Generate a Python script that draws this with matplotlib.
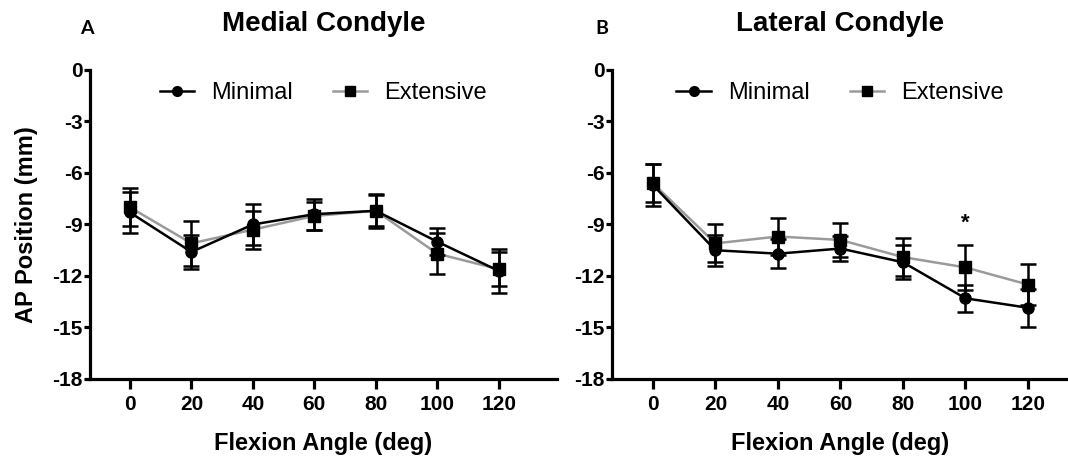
import matplotlib
matplotlib.use("Agg")
import matplotlib.pyplot as plt
from matplotlib.lines import Line2D

plt.rcParams['font.family'] = ['Liberation Sans', 'DejaVu Sans']
plt.rcParams['axes.unicode_minus'] = False

angles = [0, 20, 40, 60, 80, 100, 120]

# medial condyle
med_min = [-8.3, -10.6, -9.0, -8.4, -8.2, -10.0, -11.7]
med_min_err = [1.2, 1.0, 1.2, 0.9, 1.0, 0.8, 1.3]
med_ext = [-8.0, -10.1, -9.3, -8.5, -8.2, -10.7, -11.6]
med_ext_err = [1.1, 1.3, 1.1, 0.8, 0.9, 1.2, 1.0]

# lateral condyle
lat_min = [-6.7, -10.5, -10.7, -10.4, -11.2, -13.3, -13.85]
lat_min_err = [1.2, 0.9, 0.85, 0.75, 1.0, 0.8, 1.1]
lat_ext = [-6.6, -10.1, -9.7, -9.9, -10.9, -11.5, -12.5]
lat_ext_err = [1.1, 1.1, 1.1, 1.0, 1.1, 1.3, 1.2]

yticks = [0, -3, -6, -9, -12, -15, -18]
ytick_labels = ['0', '-3', '-6', '-9', '-12', '-15', '-18']

fig = plt.figure(figsize=(10.68, 4.59), dpi=100)
ax1 = fig.add_axes([0.0843, 0.1743, 0.4373, 0.6732])
ax2 = fig.add_axes([0.573, 0.1743, 0.427, 0.6732])


def draw_panel(ax, mn, mn_err, ex, ex_err, title, xlim):
    ax.errorbar(angles, ex, yerr=ex_err, color='#9a9a9a', lw=1.8,
                marker='s', ms=8, mfc='black', mec='black',
                ecolor='black', elinewidth=1.8, capsize=5.5, capthick=1.8,
                zorder=2)
    ax.errorbar(angles, mn, yerr=mn_err, color='black', lw=1.8,
                marker='o', ms=8, mfc='black', mec='black',
                ecolor='black', elinewidth=1.8, capsize=5.5, capthick=1.8,
                zorder=3)
    ax.set_xlim(*xlim)
    ax.set_ylim(-18, 0)
    ax.set_xticks(angles)
    ax.set_xticklabels([str(a) for a in angles], fontweight='bold', fontsize=15)
    ax.set_yticks(yticks)
    ax.set_yticklabels(ytick_labels, fontweight='bold', fontsize=15)
    ax.spines['top'].set_visible(False)
    ax.spines['right'].set_visible(False)
    ax.spines['left'].set_linewidth(2.3)
    ax.spines['bottom'].set_linewidth(2.3)
    ax.tick_params(axis='x', width=2.3, length=7.5, pad=4)
    ax.tick_params(axis='y', width=2.3, length=4.5, pad=1)
    ax.set_xlabel('Flexion Angle (deg)', fontweight='bold', fontsize=17, labelpad=13)
    ax.set_title(title, fontweight='bold', fontsize=20, pad=28)
    handles = [Line2D([], [], color='black', lw=1.8, marker='o', ms=7),
               Line2D([], [], color='#9a9a9a', lw=1.8, marker='s', ms=7,
                      mfc='black', mec='black')]
    ax.legend(handles, ['Minimal', 'Extensive'], loc='upper center',
              bbox_to_anchor=(0.5, 1.03), ncol=2, frameon=False, fontsize=17,
              handlelength=1.45, columnspacing=1.7, handletextpad=0.72)


draw_panel(ax1, med_min, med_min_err, med_ext, med_ext_err,
           'Medial Condyle', (-13.0, 139))
draw_panel(ax2, lat_min, lat_min_err, lat_ext, lat_ext_err,
           'Lateral Condyle', (-13.1, 132.8))

ax1.set_ylabel('AP Position (mm)', fontweight='bold', fontsize=17, labelpad=10)
ax2.text(100, -8.9, '*', ha='center', va='center', fontsize=16, fontweight='bold')

fig.text(87 / 1068, 1 - 29 / 459, 'A', ha='center', va='center',
         fontsize=14, fontweight='bold', family=['Lato', 'DejaVu Sans'])
fig.text(602 / 1068, 1 - 29 / 459, 'B', ha='center', va='center',
         fontsize=14, fontweight='bold', family=['Lato', 'DejaVu Sans'])

fig.savefig('out.png', dpi=100)
